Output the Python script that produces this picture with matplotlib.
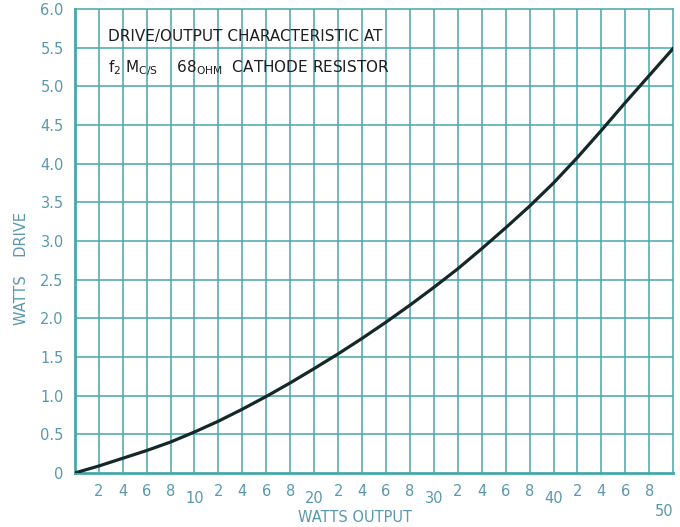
import matplotlib
matplotlib.use("Agg")
import matplotlib.pyplot as plt
import matplotlib.transforms as mtransforms

# watts output vs watts drive, every 2 W
watts_out = [0, 2, 4, 6, 8, 10, 12, 14, 16, 18, 20, 22, 24, 26, 28, 30,
             32, 34, 36, 38, 40, 42, 44, 46, 48, 50]
watts_drive = [0, 0.09, 0.19, 0.29, 0.40, 0.53, 0.67, 0.825, 0.99, 1.165, 1.35,
               1.54, 1.74, 1.95, 2.17, 2.40, 2.64, 2.90, 3.17, 3.45, 3.75,
               4.08, 4.43, 4.79, 5.14, 5.49]

minor_x = [2, 4, 6, 8, 12, 14, 16, 18, 22, 24, 26, 28, 32, 34, 36, 38, 42, 44, 46, 48]
minor_lbl = ['2', '4', '6', '8'] * 5
major_x = [10, 20, 30, 40]
major_lbl = ['10', '20', '30', '40']
y_ticks = [0, 0.5, 1.0, 1.5, 2.0, 2.5, 3.0, 3.5, 4.0, 4.5, 5.0, 5.5, 6.0]
y_lbl = ['0', '0.5', '1.0', '1.5', '2.0', '2.5', '3.0', '3.5', '4.0', '4.5', '5.0', '5.5', '6.0']

grid_c = '#45a8a8'
lbl_c = '#5a98ae'

fig = plt.figure(figsize=(6.8, 5.27), dpi=100)
ax = fig.add_axes([0.110, 0.1025, 0.880, 0.8805])

ax.set_xlim(0, 50)
ax.set_ylim(0, 6.0)

# grid every 2 W and every 0.5 W
for x in range(2, 50, 2):
    ax.axvline(x, color=grid_c, lw=1.1, zorder=1)
for y in y_ticks[1:-1]:
    ax.axhline(y, color=grid_c, lw=1.1, zorder=1)

ax.plot(watts_out, watts_drive, color='#14282a', lw=2.3, zorder=3)

for s in ['top', 'right']:
    ax.spines[s].set_color(grid_c)
    ax.spines[s].set_linewidth(1.1)
for s in ['left', 'bottom']:
    ax.spines[s].set_color(grid_c)
    ax.spines[s].set_linewidth(2.0)

ax.set_xticks(major_x)
ax.set_xticklabels(major_lbl)
ax.set_xticks(minor_x, minor=True)
ax.set_xticklabels(minor_lbl, minor=True)
ax.tick_params(axis='x', which='major', length=0, pad=13, labelsize=10.5, labelcolor=lbl_c)
ax.tick_params(axis='x', which='minor', length=0, pad=8, labelsize=10.5, labelcolor=lbl_c)

ax.set_yticks(y_ticks)
ax.set_yticklabels(y_lbl)
ax.tick_params(axis='y', length=0, pad=8, labelsize=10.5, labelcolor=lbl_c)

trans = mtransforms.blended_transform_factory(ax.transData, fig.transFigure)
ax.text(50, 0.03, '50', transform=trans, ha='right', va='center',
        fontsize=10.5, color=lbl_c)

fig.text(0.522, 0.004, 'WATTS OUTPUT', ha='center', va='bottom',
         fontsize=10.5, color=lbl_c)
fig.text(0.032, 0.491, 'WATTS    DRIVE', rotation=90, ha='center', va='center',
         fontsize=10.5, color=lbl_c)

ax.text(2.75, 5.65, 'DRIVE/OUTPUT CHARACTERISTIC AT', fontsize=11,
        color='#1e1e1e', va='center', ha='left', zorder=4)
ax.text(2.75, 5.24, r'f$_{\mathrm{2}}$ M$_{\mathrm{C/S}}$    68$_{\mathrm{OHM}}$  CATHODE RESISTOR',
        fontsize=11, color='#1e1e1e', va='center', ha='left', zorder=4)

fig.savefig('out.png', dpi=100)
